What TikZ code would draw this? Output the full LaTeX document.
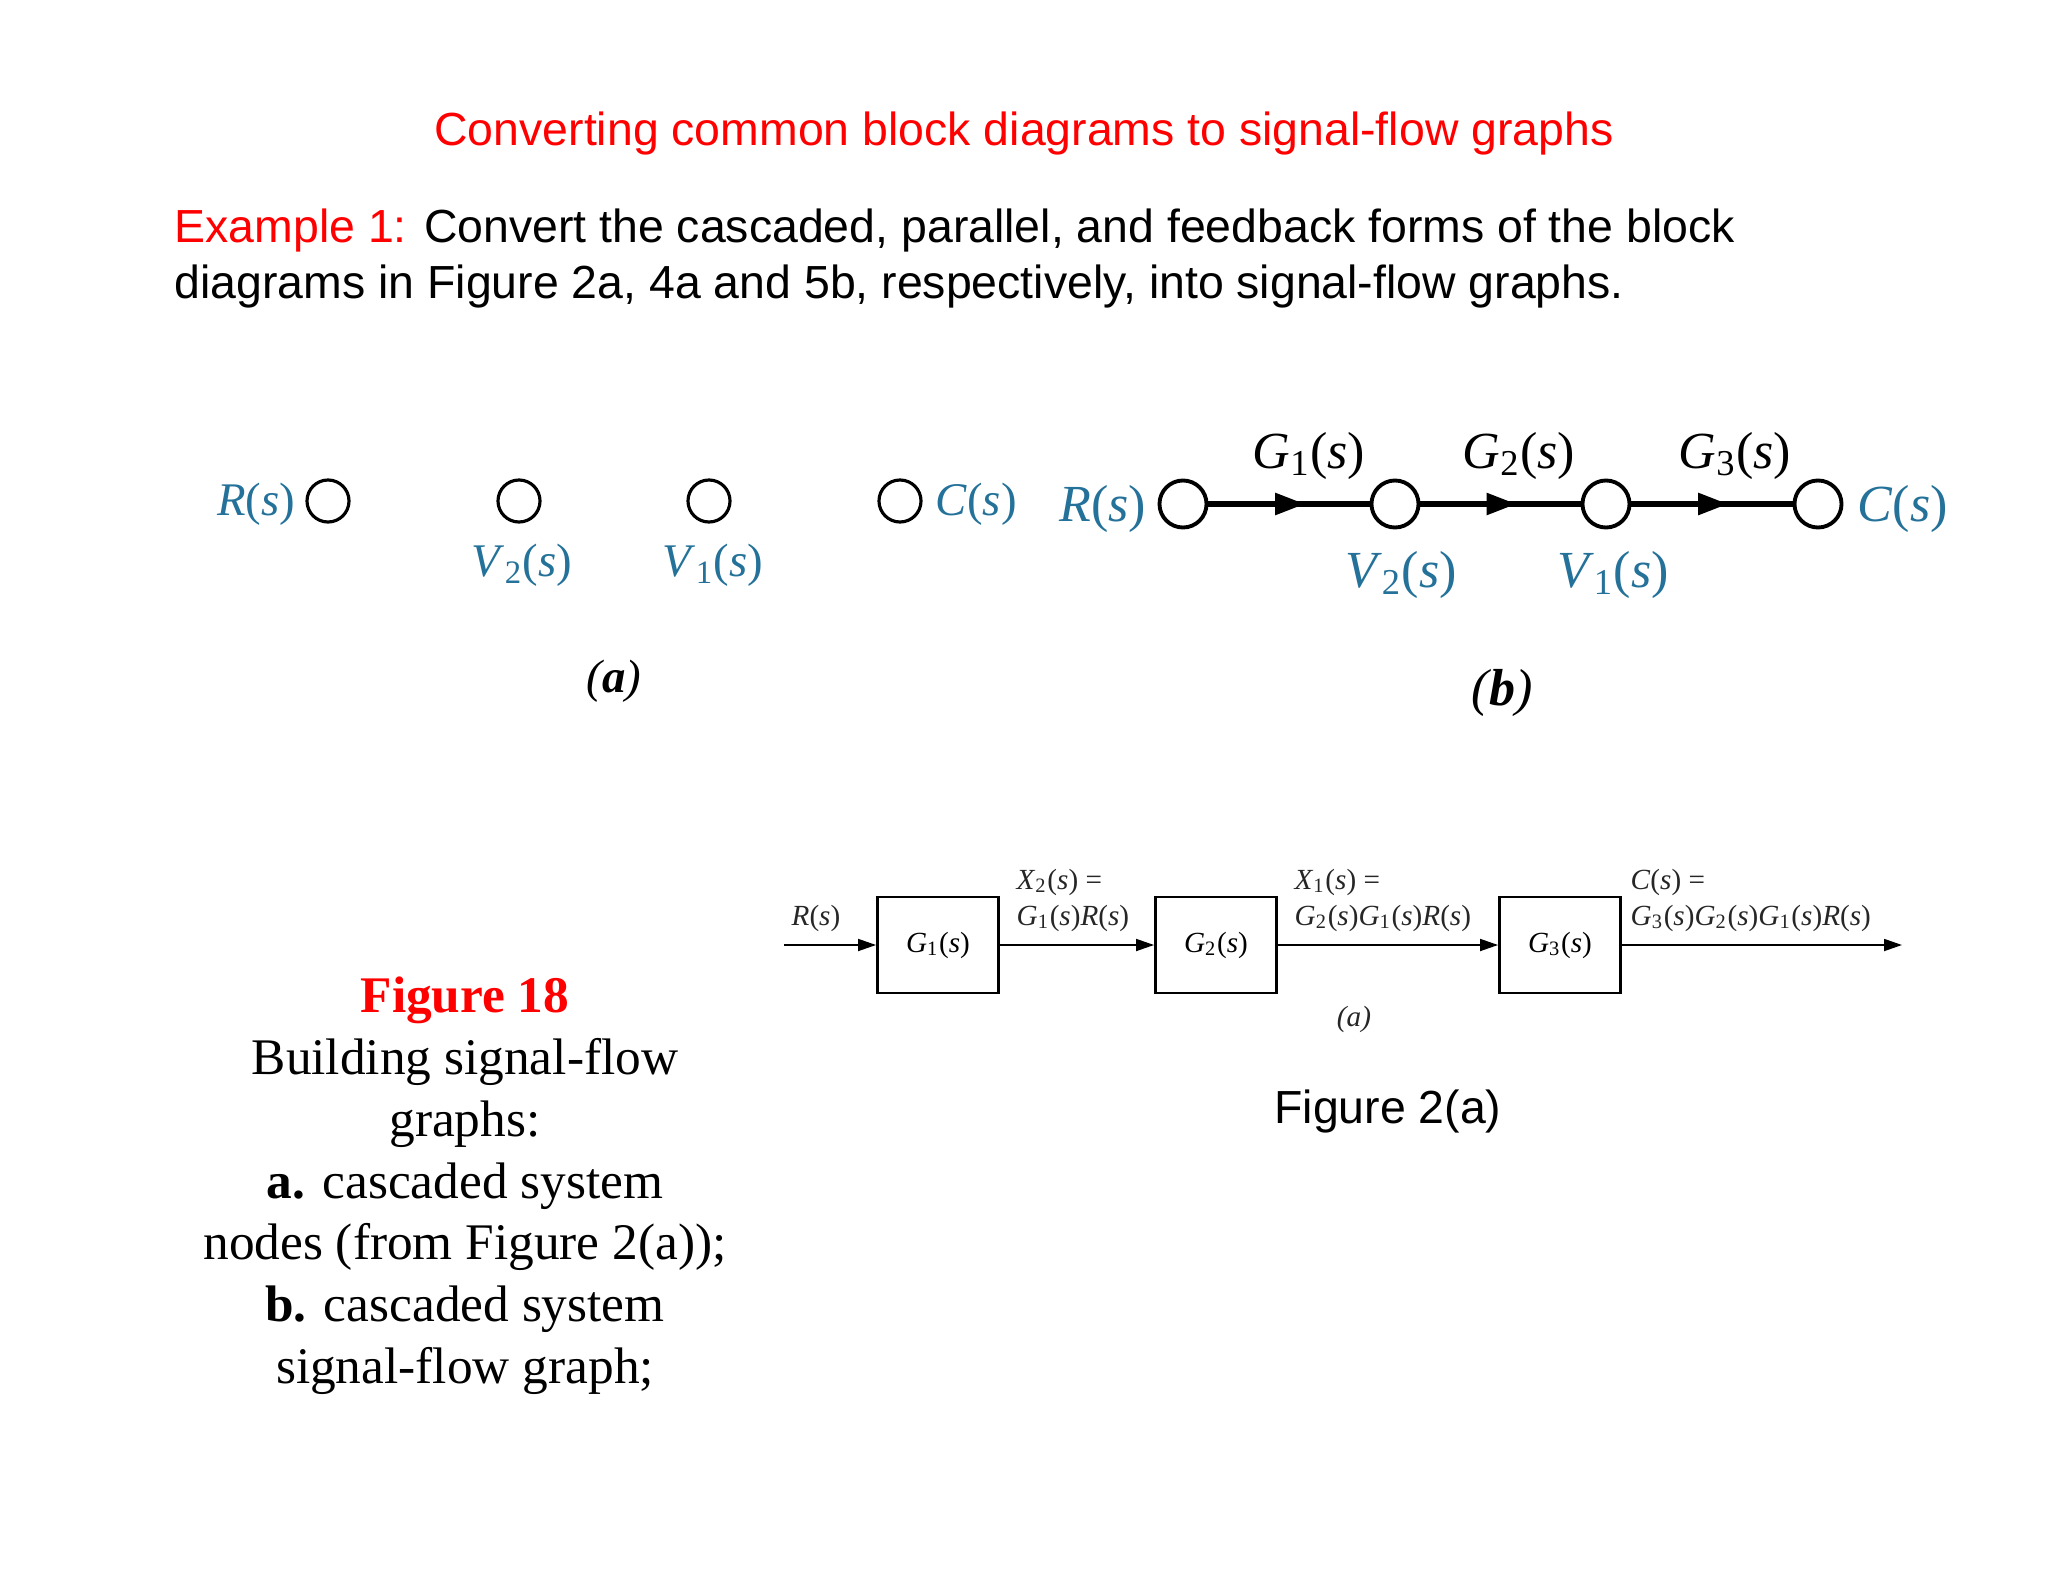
\documentclass[tikz,border=0pt]{standalone}
\usepackage{fontspec}
\setmainfont{Liberation Serif}
\setsansfont{Liberation Sans}
\usetikzlibrary{arrows.meta,positioning,decorations.markings}

\definecolor{sfgblue}{RGB}{36,113,153}
\newcommand{\sig}[1]{\textit{#1}(\textit{s})}
\newcommand{\sigi}[2]{\textit{#1}$_{\mathrm{#2}}$(\textit{s})}

\tikzset{
	every node/.style={inner sep=0pt},
	slidetext/.style={font=\sffamily\fontsize{13.2}{15.8}\selectfont},
	captext/.style={anchor=base, font=\fontsize{14.6}{17.5}\selectfont},
	nodea/.style={circle, draw, line width=0.9pt, minimum size=0.42cm},
	nodeb/.style={circle, draw, line width=1.1pt, minimum size=0.47cm},
	labela/.style={sfgblue, font=\fontsize{13.3}{16}\selectfont},
	labelb/.style={font=\fontsize{14.8}{17.8}\selectfont},
	sfgedge/.style={line width=1.6pt, postaction={decorate},
		decoration={markings, mark=at position 0.6 with
			{\arrow{Triangle[length=0.3cm,width=0.21cm]}}}},
	blockbox/.style={draw, line width=0.8pt, minimum width=1.21cm,
		minimum height=0.96cm, font=\fontsize{8.3}{10}\selectfont},
	blocktext/.style={black!85, font=\fontsize{8.3}{10}\selectfont},
	sigline/.style={line width=0.5pt, -{Triangle[length=0.18cm,width=0.12cm]}}
}

\begin{document}
\begin{tikzpicture}[x=0.01cm, y=-0.01cm]
	\fill[white] (0,0) rectangle (2048,1582);
	\useasboundingbox (0,0) rectangle (2048,1582);
	
	% Heading
	\node[slidetext, red, anchor=base] (title) at (1024,146)
		{Converting common block diagrams to signal-flow graphs};
	\node[slidetext, anchor=base west] (ex1) at (174,242)
		{\textcolor{red}{Example 1:} Convert the cascaded, parallel, and feedback forms of the block};
	\node[slidetext, anchor=base west] (ex2) at (174,298)
		{diagrams in Figure 2a, 4a and 5b, respectively, into signal-flow graphs.};
	
	% (a) nodes only
	\node[nodea] (Ra) at (328,501) {};
	\node[nodea] (V2a) at (519,501) {};
	\node[nodea] (V1a) at (709,501) {};
	\node[nodea] (Ca) at (900,501) {};
	\node[labela, anchor=base east] (Ralab) at (296,515) {\sig{R}};
	\node[labela, anchor=base] (V2alab) at (522,576) {\sigi{V}{2}};
	\node[labela, anchor=base] (V1alab) at (713,576) {\sigi{V}{1}};
	\node[labela, anchor=base west] (Calab) at (935,515) {\sig{C}};
	\node[labela, black, anchor=base] (capa) at (614,692) {\textit{(\textbf{a})}};
	
	% (b) signal-flow graph
	\node[nodeb] (Rb) at (1183,504) {};
	\node[nodeb] (V2b) at (1395,504) {};
	\node[nodeb] (V1b) at (1606,504) {};
	\node[nodeb] (Cb) at (1818,504) {};
	\draw[sfgedge] (Rb) -- (V2b);
	\draw[sfgedge] (V2b) -- (V1b);
	\draw[sfgedge] (V1b) -- (Cb);
	\node[labelb, sfgblue, anchor=base east] (Rblab) at (1147,521) {\sig{R}};
	\node[labelb, sfgblue, anchor=base west] (Cblab) at (1857,521) {\sig{C}};
	\node[labelb, sfgblue, anchor=base] (V2blab) at (1401,587) {\sigi{V}{2}};
	\node[labelb, sfgblue, anchor=base] (V1blab) at (1613,587) {\sigi{V}{1}};
	\node[labelb, anchor=base] (G1lab) at (1309,468) {\sigi{G}{1}};
	\node[labelb, anchor=base] (G2lab) at (1519,468) {\sigi{G}{2}};
	\node[labelb, anchor=base] (G3lab) at (1735,468) {\sigi{G}{3}};
	\node[labelb, anchor=base] (capb) at (1502,705) {\textit{(\textbf{b})}};
	
	% Figure 2(a) block diagram
	\coordinate (rin) at (784,945);
	\coordinate (cout) at (1902,945);
	\node[blockbox] (G1box) at (938,945) {\sigi{G}{1}};
	\node[blockbox] (G2box) at (1216,945) {\sigi{G}{2}};
	\node[blockbox] (G3box) at (1560,945) {\sigi{G}{3}};
	\draw[sigline] (rin) -- (G1box);
	\draw[sigline] (G1box) -- (G2box);
	\draw[sigline] (G2box) -- (G3box);
	\draw[sigline] (G3box) -- (cout);
	\node[blocktext, anchor=base] (rlab) at (816,925) {\sig{R}};
	\node[blocktext, anchor=base west] (x2top) at (1016,889) {\sigi{X}{2} =};
	\node[blocktext, anchor=base west] (x2bot) at (1016,925) {\sigi{G}{1}\sig{R}};
	\node[blocktext, anchor=base west] (x1top) at (1294,889) {\sigi{X}{1} =};
	\node[blocktext, anchor=base west] (x1bot) at (1294,925) {\sigi{G}{2}\sigi{G}{1}\sig{R}};
	\node[blocktext, anchor=base west] (ctop) at (1630,889) {\sig{C} =};
	\node[blocktext, anchor=base west] (cbot) at (1630,925) {\sigi{G}{3}\sigi{G}{2}\sigi{G}{1}\sig{R}};
	\node[blocktext, anchor=base] (capblk) at (1354,1026) {\textit{(a)}};
	\node[slidetext, anchor=base] (fig2a) at (1388,1123) {Figure 2(a)};
	
	% Caption
	\node[captext, red] (cap1) at (465,1012) {\textbf{Figure 18}};
	\node[captext] (cap2) at (465,1074) {Building signal-flow};
	\node[captext] (cap3) at (465,1136) {graphs:};
	\node[captext] (cap4) at (465,1198) {\textbf{a.} cascaded system};
	\node[captext] (cap5) at (465,1259) {nodes (from Figure 2(a));};
	\node[captext] (cap6) at (465,1321) {\textbf{b.} cascaded system};
	\node[captext] (cap7) at (465,1383) {signal-flow graph;};
\end{tikzpicture}
\end{document}
